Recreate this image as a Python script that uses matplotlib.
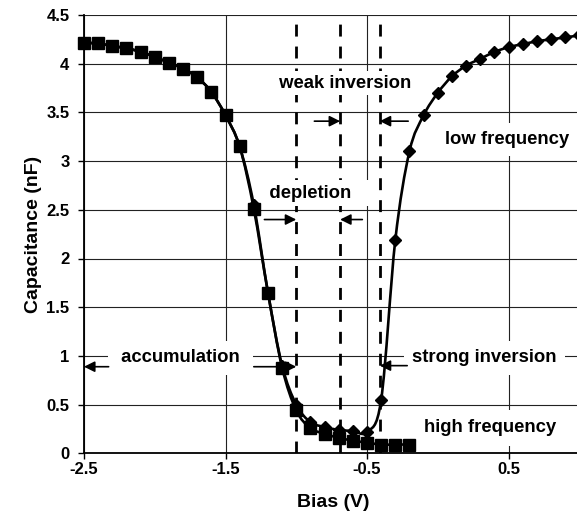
import matplotlib
matplotlib.use("Agg")
import matplotlib.pyplot as plt
from matplotlib.path import Path
from matplotlib.patches import PathPatch
import numpy as np

plt.rcParams['font.family'] = ['Liberation Sans', 'DejaVu Sans']
plt.rcParams['font.weight'] = 'bold'

# ---- data ----
bias_hf = [-2.5, -2.4, -2.3, -2.2, -2.1, -2.0, -1.9, -1.8, -1.7, -1.6, -1.5, -1.4,
           -1.3, -1.2, -1.1, -1.0, -0.9, -0.8, -0.7, -0.6, -0.5, -0.4, -0.3, -0.2]
cap_hf = [4.21, 4.21, 4.18, 4.16, 4.12, 4.07, 4.01, 3.95, 3.86, 3.71, 3.47, 3.15,
          2.51, 1.65, 0.88, 0.44, 0.26, 0.20, 0.16, 0.13, 0.11, 0.09, 0.09, 0.09]

bias_lf = [-2.5, -2.4, -2.3, -2.2, -2.1, -2.0, -1.9, -1.8, -1.7, -1.6, -1.5, -1.4,
           -1.3, -1.2, -1.1, -1.0, -0.9, -0.8, -0.7, -0.6, -0.5, -0.4, -0.3, -0.2,
           -0.1, 0.0, 0.1, 0.2, 0.3, 0.4, 0.5, 0.6, 0.7, 0.8, 0.9, 1.0]
cap_lf = [4.21, 4.21, 4.18, 4.16, 4.12, 4.07, 4.01, 3.95, 3.86, 3.71, 3.47, 3.15,
          2.55, 1.65, 0.90, 0.50, 0.32, 0.27, 0.24, 0.23, 0.22, 0.55, 2.19, 3.10,
          3.47, 3.70, 3.87, 3.98, 4.05, 4.12, 4.17, 4.20, 4.23, 4.25, 4.27, 4.29]

region_bounds = [-1.0, -0.69, -0.41]

x_ticks = [-2.5, -1.5, -0.5, 0.5]
x_ticklabels = ['-2.5', '-1.5', '-0.5', '0.5']
y_ticks = [0, 0.5, 1, 1.5, 2, 2.5, 3, 3.5, 4, 4.5]
y_ticklabels = ['0', '0.5', '1', '1.5', '2', '2.5', '3', '3.5', '4', '4.5']

# ---- figure ----
fig = plt.figure(figsize=(5.77, 5.17), dpi=100)
ax = fig.add_axes([84 / 577, (517 - 453.3) / 517, (577 - 84) / 577, (453.3 - 15) / 517])
ax.set_xlim(-2.5, 0.984)
ax.set_ylim(0, 4.5)

ax.set_xticks(x_ticks)
ax.set_xticklabels(x_ticklabels)
ax.set_yticks(y_ticks)
ax.set_yticklabels(y_ticklabels)
ax.tick_params(axis='both', direction='out', length=4.5, width=1.0, labelsize=12, colors='black')
ax.tick_params(axis='x', pad=2)
ax.tick_params(axis='y', pad=6)
for lab in ax.get_xticklabels() + ax.get_yticklabels():
    lab.set_fontweight('bold')

ax.set_axisbelow(True)
ax.grid(True, color='#222222', lw=0.8)
for s in ['top', 'right']:
    ax.spines[s].set_visible(False)
for s in ['left', 'bottom']:
    ax.spines[s].set_linewidth(1.3)
    ax.spines[s].set_zorder(4)

ax.set_xlabel('Bias (V)', fontsize=14, fontweight='bold')
ax.set_ylabel('Capacitance (nF)', fontsize=14, fontweight='bold')
ax.xaxis.set_label_coords(0.506, -0.092)
ax.yaxis.set_label_coords(-0.086, 0.5)

# region boundaries (dashed)
for xb in region_bounds:
    ax.axvline(xb, color='black', lw=2.0, linestyle=(0, (4.3, 3.6)), zorder=1)


def smooth_line(xs, ys, zorder):
    """Excel-style smoothed line (Catmull-Rom Bezier) computed in display space."""
    pts = ax.transData.transform(np.column_stack([xs, ys]))
    n = len(pts)
    verts = [pts[0]]
    codes = [Path.MOVETO]
    for i in range(n - 1):
        p0 = pts[i - 1] if i > 0 else pts[i]
        p1 = pts[i]
        p2 = pts[i + 1]
        p3 = pts[i + 2] if i + 2 < n else pts[i + 1]
        c1 = p1 + (p2 - p0) / 6.0
        c2 = p2 - (p3 - p1) / 6.0
        verts += [c1, c2, p2]
        codes += [Path.CURVE4] * 3
    patch = PathPatch(Path(verts, codes), transform=None, fc='none', ec='black',
                      lw=1.9, zorder=zorder, clip_on=False, capstyle='round',
                      joinstyle='round')
    fig.add_artist(patch)


fig.canvas.draw()
smooth_line(bias_hf, cap_hf, 5)
ax.plot(bias_hf, cap_hf, linestyle='none', color='black', marker='s', ms=8,
        zorder=5, clip_on=False)
smooth_line(bias_lf, cap_lf, 6)
ax.plot(bias_lf, cap_lf, linestyle='none', color='black', marker='D', ms=6.2,
        zorder=6, clip_on=False)

# labels with white boxes
def label(x, y, s, pad):
    ax.text(x, y, s, fontsize=13.3, fontweight='bold', ha='center', va='center',
            zorder=2, bbox=dict(boxstyle='square,pad=%g' % pad, fc='white', ec='none'))

label(-0.652, 3.80, ' weak inversion ', 0.2)
label(0.49, 3.22, 'low frequency', 0.45)
label(-0.88, 2.67, '   depletion    ', 0.25)
label(-1.817, 0.98, ' accumulation ', 0.45)
label(0.331, 0.98, 'strong inversion', 0.45)
label(0.367, 0.26, 'high frequency', 0.5)

# arrows
arrows = [((-0.872, 3.41), (-0.69, 3.41)),
          ((-0.209, 3.41), (-0.41, 3.41)),
          ((-1.225, 2.40), (-1.0, 2.40)),
          ((-0.533, 2.40), (-0.69, 2.40)),
          ((-2.326, 0.889), (-2.5, 0.889)),
          ((-1.30, 0.889), (-1.0, 0.889)),
          ((-0.216, 0.90), (-0.41, 0.90))]
for tail, head in arrows:
    ax.annotate('', xy=head, xytext=tail, zorder=7,
                arrowprops=dict(arrowstyle='-|>', color='black', lw=1.2,
                                mutation_scale=16, shrinkA=0, shrinkB=0))

fig.savefig('out.png', dpi=100)
